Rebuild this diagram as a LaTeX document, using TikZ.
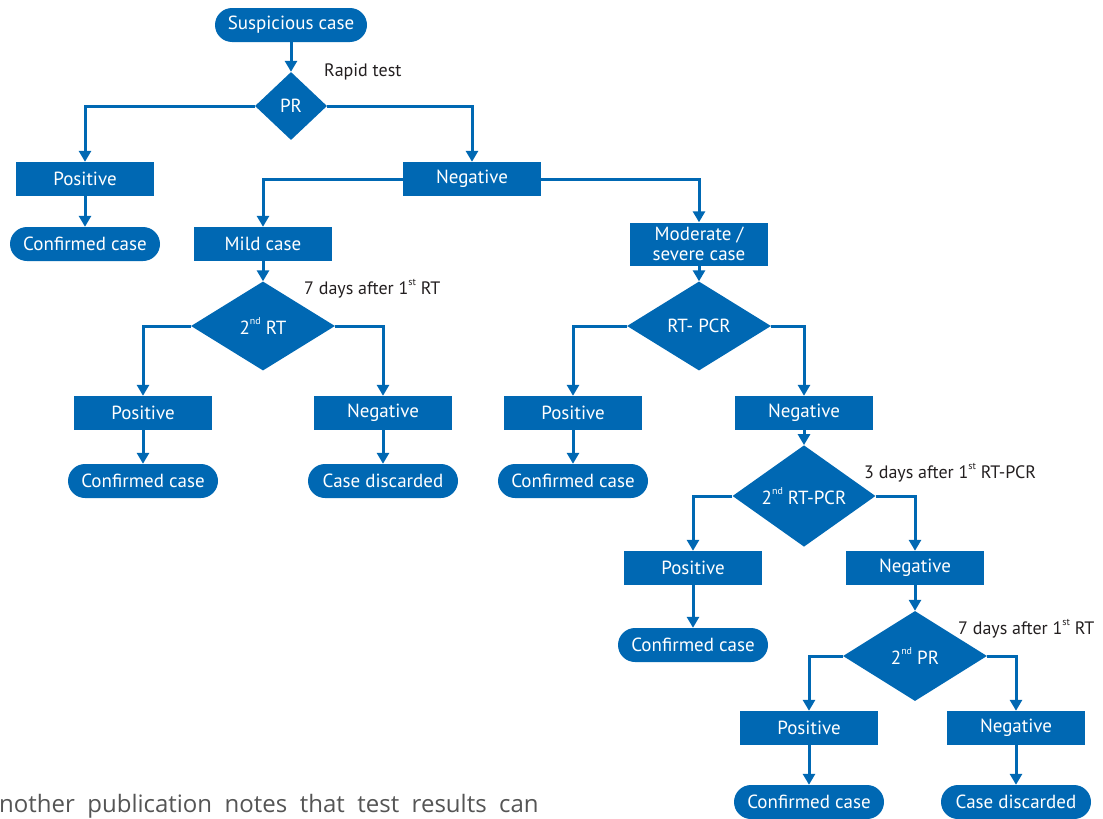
\documentclass[tikz,border=0pt]{standalone}
\usepackage{fontspec}
\setmainfont{PT Sans}
\newfontfamily\bodyfont{Open Sans}
\usetikzlibrary{positioning,shapes.geometric,arrows.meta}
\definecolor{bb}{RGB}{0,104,179}
\definecolor{tt}{RGB}{35,31,32}
\definecolor{gg}{RGB}{85,85,85}
\newcommand{\ordsup}[1]{\raisebox{0.5em}{\fontsize{10}{10}\selectfont #1}}
\tikzset{
  box/.style={rectangle, fill=bb, text=white, minimum width=138pt, minimum height=34pt, inner sep=0, align=center, font=\fontsize{19}{21}\selectfont},
  pill/.style={rectangle, rounded corners=17pt, fill=bb, text=white, minimum width=150pt, minimum height=34pt, inner sep=0, font=\fontsize{19}{21}\selectfont},
  test/.style={diamond, fill=bb, text=white, inner sep=0, font=\fontsize{19}{21}\selectfont},
  note/.style={text=tt, font=\fontsize{18}{20}\selectfont, inner sep=0},
  arr/.style={draw=bb, line width=3pt, -{Triangle[width=12pt,length=11pt]}},
}
\begin{document}
\begin{tikzpicture}[x=1pt,y=-1pt]
\useasboundingbox (0,0) rectangle (1103,819);

\node[pill, minimum width=152pt] (susp) at (291,25) {Suspicious case};
\node[test, minimum width=72pt, minimum height=68pt] (pr) at (291,106) {PR};
\node[note, anchor=west] (rapid) at (324,72) {Rapid test};

\node[box] (pos1) at (85,179) {Positive};
\node[box] (neg1) at (472,179) {Negative};
\node[pill] (conf1) at (85,244) {Confirmed case};
\node[box] (mild) at (263,244) {Mild case};
\node[box, minimum height=43pt] (mod) at (699,244) {Moderate /\\[-1pt] severe case};

\node[test, minimum width=144pt, minimum height=89pt] (rt2) at (263,326) {2\ordsup{nd} RT};
\node[note, anchor=west] (days1) at (304,289) {7 days after 1\ordsup{st} RT};
\node[box] (pos2) at (143,413) {Positive};
\node[box] (neg2) at (383,413) {Negative};
\node[pill] (conf2) at (143,481) {Confirmed case};
\node[pill] (disc1) at (383,481) {Case discarded};

\node[test, minimum width=144pt, minimum height=89pt] (pcr) at (699,326) {RT- PCR};
\node[box] (pos3) at (573,413) {Positive};
\node[box] (neg3) at (804,413) {Negative};
\node[pill] (conf3) at (573,481) {Confirmed case};

\node[test, minimum width=143pt, minimum height=90pt] (pcr2) at (804,496) {2\ordsup{nd} RT-PCR};
\node[note, anchor=west] (days2) at (864,473) {3 days after 1\ordsup{st} RT-PCR};
\node[box] (pos4) at (693,568) {Positive};
\node[box] (neg4) at (915,568) {Negative};
\node[pill] (conf4) at (693,645) {Confirmed case};

\node[test, minimum width=144pt, minimum height=90pt] (pr2) at (915,656) {2\ordsup{nd} PR};
\node[note, anchor=west] (days3) at (958,629) {7 days after 1\ordsup{st} RT};
\node[box] (pos5) at (809,728) {Positive};
\node[box] (neg5) at (1016,728) {Negative};
\node[pill] (conf5) at (809,802) {Confirmed case};
\node[pill] (disc2) at (1016,802) {Case discarded};

\node[text=gg, anchor=base west, inner sep=0, font=\bodyfont\fontsize{24}{28}\selectfont] (body) at (-1,812) {\spaceskip=12.5pt nother publication notes that test results can};

\draw[arr] (susp) -- (pr);
\draw[arr] (pr.west) -| (pos1.north);
\draw[arr] (pr.east) -| (neg1.north);
\draw[arr] (pos1) -- (conf1);
\draw[arr] (neg1.west) -| (mild.north);
\draw[arr] (neg1.east) -| (mod.north);
\draw[arr] (mild) -- (rt2);
\draw[arr] (mod) -- (pcr);
\draw[arr] (rt2.west) -| (pos2.north);
\draw[arr] (rt2.east) -| (neg2.north);
\draw[arr] (pos2) -- (conf2);
\draw[arr] (neg2) -- (disc1);
\draw[arr] (pcr.west) -| (pos3.north);
\draw[arr] (pcr.east) -| (neg3.north);
\draw[arr] (pos3) -- (conf3);
\draw[arr] (neg3) -- (pcr2);
\draw[arr] (pcr2.west) -| (pos4.north);
\draw[arr] (pcr2.east) -| (neg4.north);
\draw[arr] (pos4) -- (conf4);
\draw[arr] (neg4) -- (pr2);
\draw[arr] (pr2.west) -| (pos5.north);
\draw[arr] (pr2.east) -| (neg5.north);
\draw[arr] (pos5) -- (conf5);
\draw[arr] (neg5) -- (disc2);

\end{tikzpicture}
\end{document}
